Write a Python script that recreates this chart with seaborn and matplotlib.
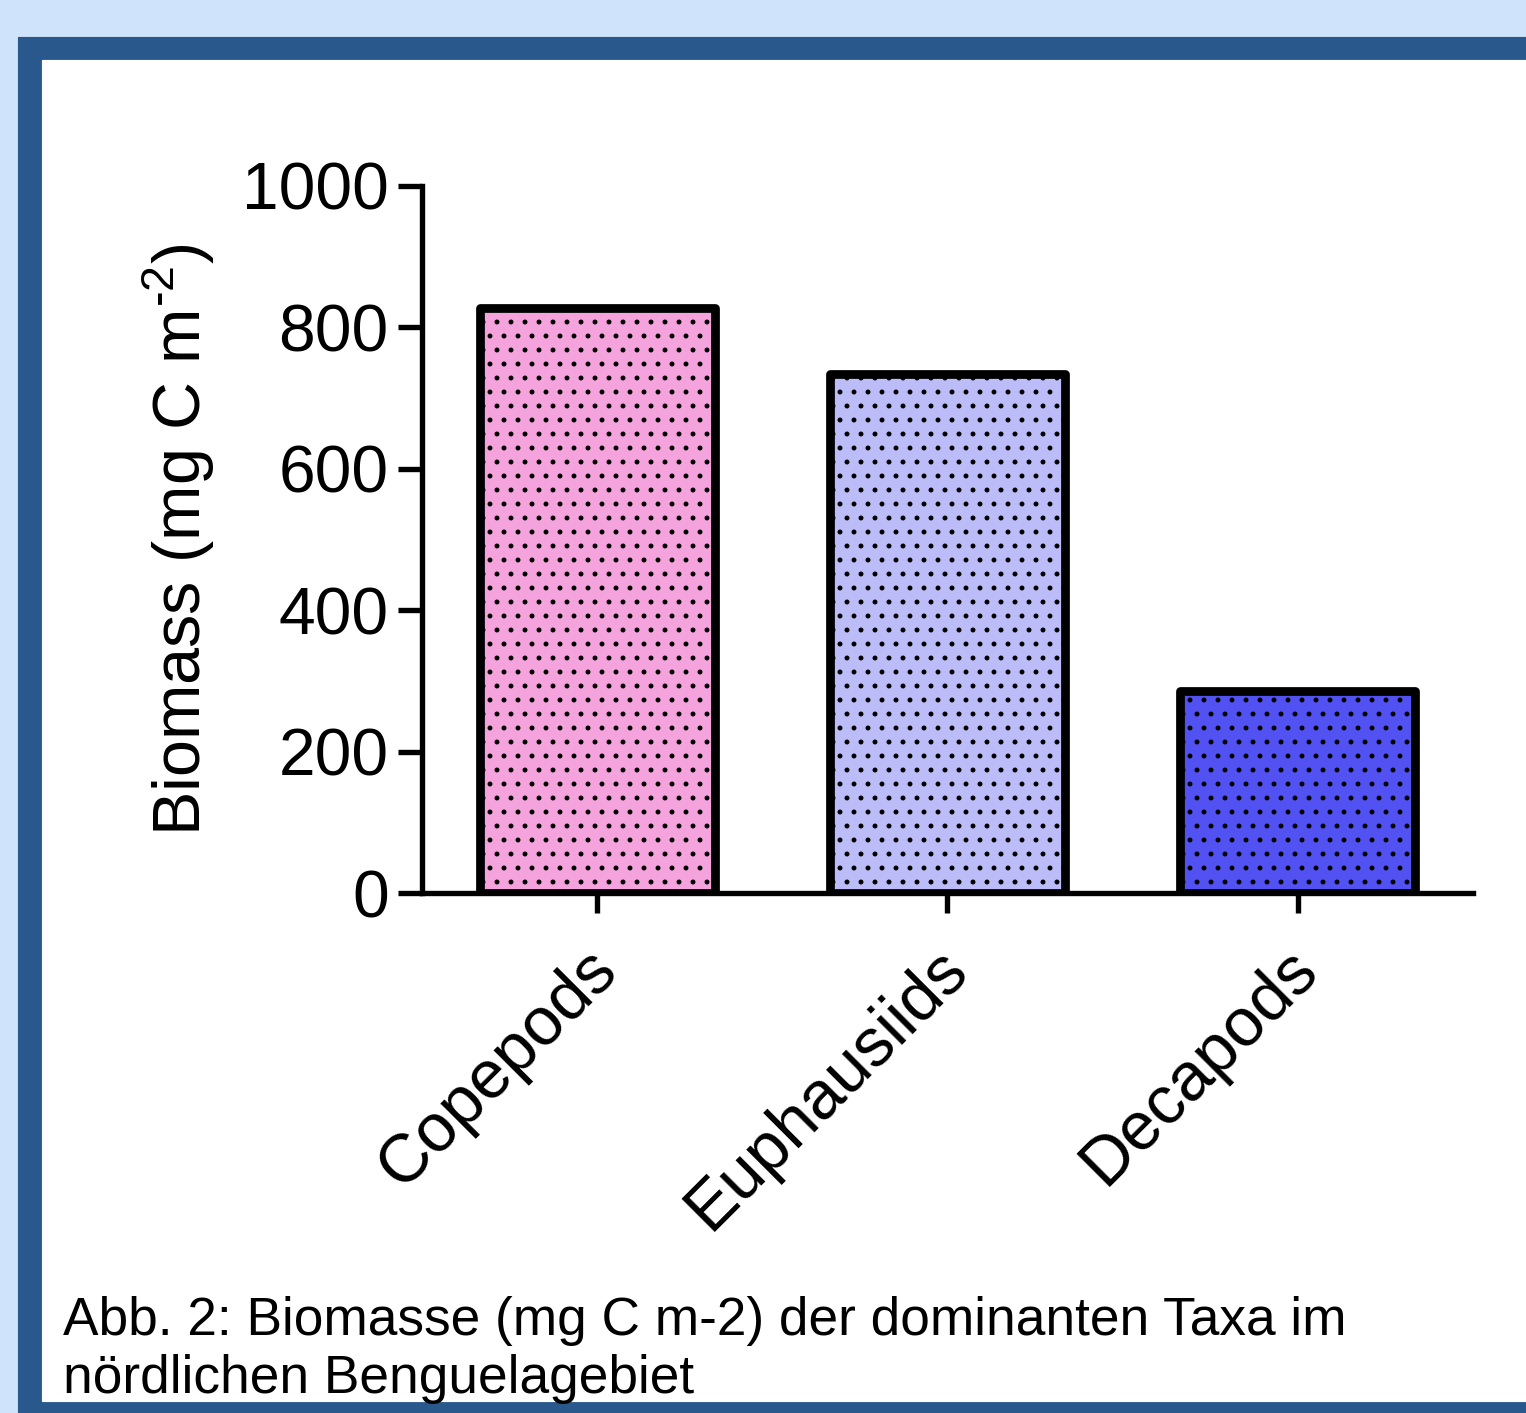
import matplotlib
matplotlib.use("Agg")
from matplotlib import pyplot as plt
from matplotlib.patches import Rectangle
from matplotlib.transforms import ScaledTranslation
import seaborn as sns
import pandas as pd

# values
taxa = ['Copepods', 'Euphausiids', 'Decapods']
biomass = [827, 734, 286]
bar_colors = ['#f5a3dd', '#bcbcf9', '#5252f2']
y_ticks = [0, 200, 400, 600, 800, 1000]
caption_lines = ['Abb. 2: Biomasse (mg C m-2) der dominanten Taxa im',
                 'nördlichen Benguelagebiet']

sns.set_style('ticks')
plt.rcParams['font.family'] = ['Liberation Sans', 'DejaVu Sans']
plt.rcParams['mathtext.fontset'] = 'custom'
plt.rcParams['mathtext.rm'] = 'Liberation Sans'
plt.rcParams['hatch.linewidth'] = 1.8
for k in ['text.color', 'axes.labelcolor', 'xtick.color', 'ytick.color', 'axes.edgecolor']:
    plt.rcParams[k] = 'black'

df = pd.DataFrame({'taxon': taxa, 'biomass': biomass})

DPI = 84
W, H = 1527, 1413
fig = plt.figure(figsize=(W / DPI, H / DPI), dpi=DPI, facecolor='#cfe4fa')

# poster frame: dark blue border, white panel (behind the axes)
fig.patches.append(Rectangle((18 / W, 0), 1, 1376 / H, transform=fig.transFigure,
                             color='#28588c', zorder=-2))
fig.patches.append(Rectangle((42 / W, 12 / H), 1, 1341 / H, transform=fig.transFigure,
                             color='white', zorder=-1))

ax = fig.add_axes([422 / W, 520 / H, 1051 / W, 707 / H])
ax.set_facecolor('none')

sns.barplot(data=df, x='taxon', y='biomass', hue='taxon', palette=bar_colors,
            legend=False, width=0.67, saturation=1, edgecolor='black',
            linewidth=7.5, ax=ax)
for p in ax.patches:
    p.set_hatch('.')
    p.set_joinstyle('round')

ax.set_xlim(-0.5, 2.5)
ax.set_ylim(0, 1000)
ax.set_yticks(y_ticks)
sns.despine(ax=ax)
for s in ['left', 'bottom']:
    ax.spines[s].set_linewidth(4.6)

ax.tick_params(axis='y', length=20.5, width=4.6, labelsize=56.5, pad=8)
ax.tick_params(axis='x', length=17, width=4.6, labelsize=58, pad=10)
ax.set_xticks(range(len(taxa)))
ax.set_xticklabels(taxa, rotation=45, ha='right', rotation_mode='anchor')
shift = ScaledTranslation(-13 / DPI, -12 / DPI, fig.dpi_scale_trans)
for lab in ax.get_xticklabels():
    lab.set_transform(lab.get_transform() + shift)
ax.set_xlabel('')
ax.set_ylabel('Biomass (mg C m$^{\\text{-2}}$)', fontsize=57)
ax.yaxis.set_label_coords(-0.195, 0.5)

fig.text(63 / W, 78 / H, caption_lines[0], fontsize=45.6, va='baseline')
fig.text(63 / W, 20 / H, caption_lines[1], fontsize=45.6, va='baseline')

fig.savefig('out.png', dpi=DPI, facecolor=fig.get_facecolor())
